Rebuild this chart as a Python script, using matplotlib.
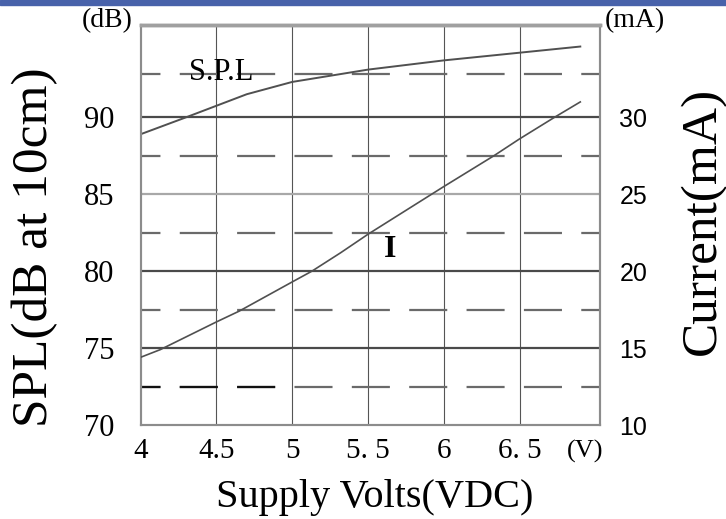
import matplotlib
matplotlib.use("Agg")
import matplotlib.pyplot as plt
from matplotlib.patches import Rectangle

plt.rcParams['lines.scale_dashes'] = False

# Data
volts_spl = [4.0, 4.3, 4.5, 4.7, 5.0, 5.5, 6.0, 6.5, 6.9]
spl_db = [88.9, 90.0, 90.75, 91.5, 92.3, 93.1, 93.7, 94.2, 94.6]

volts_i = [4.0, 4.13, 4.5, 4.65, 5.0, 5.13, 5.32, 5.5, 6.0, 6.33, 6.5, 6.73, 6.9]
current_ma = [14.4, 14.9, 16.7, 17.4, 19.3, 20.0, 21.2, 22.4, 25.5, 27.5, 28.6, 30.0, 31.0]

x_ticks = [4, 4.5, 5, 5.5, 6, 6.5]
x_tick_labels = ["4", "4.5", "5", "5. 5", "6", "6. 5"]
db_ticks = [70, 75, 80, 85, 90]
ma_ticks = [10, 15, 20, 25, 30]
solid_rows = [75, 80, 85, 90]
dashed_rows = [72.5, 77.5, 82.5, 87.5, 92.8]

serif = ['Liberation Serif', 'DejaVu Serif']
sans = ['Liberation Sans', 'DejaVu Sans']

fig = plt.figure(figsize=(7.26, 5.19), dpi=100)
ax = fig.add_axes([140.6 / 726, 1 - 425 / 519, 459.4 / 726, 400 / 519])
ax.set_xlim(4, 7.03)
ax.set_ylim(70, 96)

# blue strip along the top edge
fig.patches.append(Rectangle((0, 1 - 5 / 519), 1, 5 / 519, transform=fig.transFigure,
                             color='#4862aa', zorder=0))

# grid
for v in x_ticks[1:]:
    ax.axvline(v, color='#555555', lw=0.8, zorder=1)
for r in solid_rows:
    ax.axhline(r, color='#a8a8a8' if r == 85 else '#4a4a4a', lw=1.6, zorder=1)
dash = (13.4, (27.4, 13.9))
for r in dashed_rows:
    ax.axhline(r, color='#6a6a6a', lw=1.6, ls=dash, zorder=1)
ax.plot([4, 4.89], [72.5, 72.5], color='#111111', lw=1.6, ls=dash, zorder=2)

# curves
ax.plot(volts_spl, spl_db, color='#505050', lw=1.4, zorder=3)
ax2 = ax.twinx()
ax2.set_ylim(10, 36)
ax2.plot(volts_i, current_ma, color='#505050', lw=1.2, zorder=3)

for a in (ax, ax2):
    for s in a.spines.values():
        s.set_color('#8c8c8c')
        s.set_linewidth(1.5)
    a.spines['top'].set_color('#a0a0a0')
    a.spines['top'].set_linewidth(2.5)
    a.tick_params(length=0)

ax.set_xticks(x_ticks)
ax.set_xticklabels(x_tick_labels, fontfamily=serif, fontsize=21)
ax.set_yticks(db_ticks)
ax.set_yticklabels([str(t) for t in db_ticks], fontfamily=serif, fontsize=22)
ax2.set_yticks(ma_ticks)
ax2.set_yticklabels([str(t) for t in ma_ticks], fontfamily=sans, fontsize=18)
ax.tick_params(axis='x', pad=9)
ax.tick_params(axis='y', pad=19)
ax2.tick_params(axis='y', pad=14)

# labels
ax.text(6.935, 68.3, "(V)", fontfamily=serif, fontsize=19, ha='center', va='center')
ax.text(-0.073, 1.012, "(dB)", transform=ax.transAxes, fontfamily=serif, fontsize=20,
        ha='center', va='center')
ax.text(1.076, 1.012, "(mA)", transform=ax.transAxes, fontfamily=serif, fontsize=20,
        ha='center', va='center')
ax.text(4.53, 92.93, "S.P.L", fontfamily=serif, fontsize=22, ha='center', va='center')
ax.text(5.644, 81.41, "I", fontfamily=serif, fontsize=23, fontweight='bold',
        ha='center', va='center')

ax.text(0.51, -0.18, "Supply Volts(VDC)", transform=ax.transAxes, fontfamily=serif,
        fontsize=29, ha='center', va='center')
ax.text(-0.23, 0.445, "SPL(dB at 10cm)", transform=ax.transAxes, fontfamily=serif,
        fontsize=37, rotation=90, ha='center', va='center')
ax.text(1.224, 0.51, "Current(mA)", transform=ax.transAxes, fontfamily=serif,
        fontsize=37, rotation=90, ha='center', va='center')

plt.savefig("out.png")
